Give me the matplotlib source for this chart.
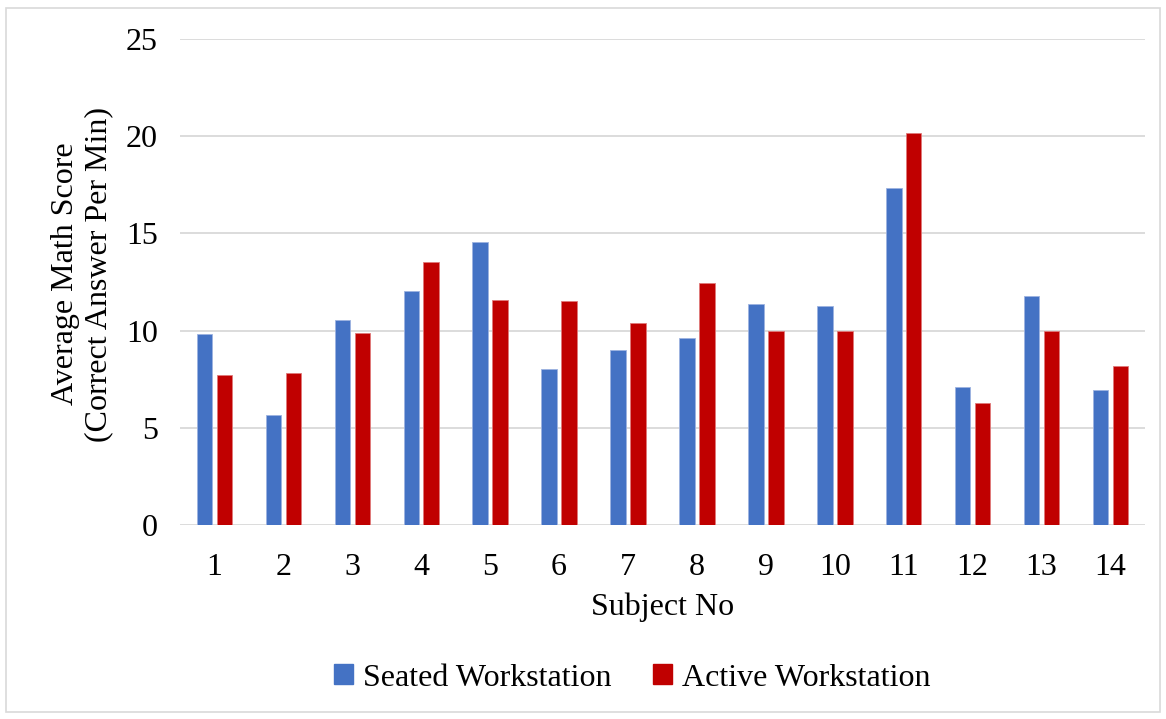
import numpy as np
import matplotlib
matplotlib.use("Agg")
import matplotlib.pyplot as plt
from matplotlib.patches import Rectangle, Patch

subjects = [str(i) for i in range(1, 15)]
seated = [9.8, 5.65, 10.55, 12.02, 14.55, 8.02, 8.99, 9.6, 11.35, 11.27, 17.32, 7.09, 11.8, 6.97]
active = [7.71, 7.83, 9.9, 13.52, 11.55, 11.5, 10.37, 12.44, 9.97, 9.97, 20.18, 6.27, 10.0, 8.2]

blue = "#4472C4"
red = "#C00000"

plt.rcParams["font.family"] = ["Liberation Serif", "DejaVu Serif"]

fig = plt.figure(figsize=(11.66, 7.19), dpi=100)
ax = fig.add_axes([180 / 1166, 1 - 525 / 719, 965 / 1166, 486 / 719])

x = np.arange(len(subjects))
w = 0.225
gap = 0.065
off = (w + gap) / 2
ax.bar(x - off, seated, width=w, color=blue, edgecolor="#9DB3E0", linewidth=0.6, zorder=3)
ax.bar(x + off, active, width=w, color=red, edgecolor="#E07A7A", linewidth=0.6, zorder=3)

ax.set_xlim(-0.5, len(subjects) - 0.5)
ax.set_ylim(0, 25)
ax.set_yticks(range(0, 26, 5))
ax.set_xticks(x)
ax.set_xticklabels(subjects)
ax.yaxis.grid(True, color="#D9D9D9", linewidth=1.3, zorder=0)
ax.set_axisbelow(True)
for s in ax.spines.values():
    s.set_visible(False)
ax.tick_params(axis="both", length=0, labelsize=23)
ax.tick_params(axis="y", pad=16)
ax.tick_params(axis="x", pad=20)

ax.set_xlabel("Subject No", fontsize=23, labelpad=8)
fig.text(82 / 1166, 1 - 274 / 719, "Average Math Score\n(Correct Answer Per Min)",
         rotation=90, ha="center", va="center", fontsize=23, linespacing=1.2)

handles = [Patch(color=blue, label="Seated Workstation"),
           Patch(color=red, label="Active Workstation")]
fig.legend(handles=handles, loc="center", bbox_to_anchor=(632 / 1166, 1 - 678 / 719),
           ncol=2, frameon=False, fontsize=23, handlelength=0.6, handleheight=0.6,
           handletextpad=0.3, columnspacing=1.3)

fig.patches.append(Rectangle((6 / 1166, 7 / 719), 1154 / 1166, 704 / 719,
                             transform=fig.transFigure, fill=False,
                             edgecolor="#D9D9D9", linewidth=1.2))

fig.savefig("out.png", dpi=100)
